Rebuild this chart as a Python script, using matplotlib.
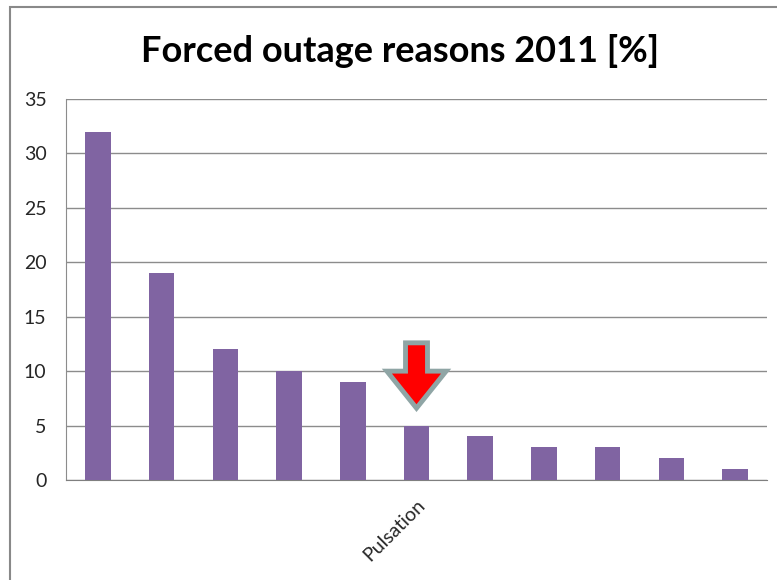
import matplotlib.pyplot as plt
from matplotlib.patches import FancyArrow, Rectangle

# values
reasons = ["", "", "", "", "", "Pulsation", "", "", "", "", ""]
share = [32, 19, 12, 10, 9, 5, 4, 3, 3, 2, 1]
highlight = "Pulsation"
yticks = [0, 5, 10, 15, 20, 25, 30, 35]

plt.rcParams['font.family'] = ['Lato', 'DejaVu Sans']

fig = plt.figure(figsize=(7.77, 5.8), dpi=100)
ax = fig.add_axes([66 / 777, 100 / 580, 701 / 777, 381 / 580])

x = list(range(len(share)))
ax.bar(x, share, width=0.4, color='#8064A2', zorder=3)

ax.set_xlim(-0.5, len(share) - 0.5)
ax.set_ylim(0, 35)
ax.set_yticks(yticks)
ax.set_yticklabels([str(v) for v in yticks], fontsize=14, color='#262626')
ax.set_xticks(x)
ax.set_xticklabels(reasons, rotation=45, ha='right', rotation_mode='anchor',
                   fontsize=14, color='#262626')
ax.tick_params(length=0)
ax.tick_params(axis='y', pad=14)
ax.tick_params(axis='x', pad=12)

ax.grid(axis='y', color='#8c8c8c', linewidth=1, zorder=0)
for s in ['top', 'right']:
    ax.spines[s].set_visible(False)
ax.spines['left'].set_color('#8c8c8c')
ax.spines['bottom'].set_color('#7f7f7f')

# arrow pointing at the highlighted bar
i = reasons.index(highlight)
top = share[i] + 7.6
ax.add_patch(FancyArrow(i, top, 0, -(top - share[i] - 1.6), width=0.345,
                        head_width=0.93, head_length=3.4,
                        length_includes_head=True, facecolor='#FF0000',
                        edgecolor='#8FA5A5', linewidth=3.5, zorder=5,
                        joinstyle='miter'))

fig.text(400 / 777, 1 - 51 / 580, "Forced outage reasons 2011 [%]",
         ha='center', va='center', fontsize=26, fontweight='bold')

# chart area border (cut off at right and bottom)
fig.patches.append(Rectangle((10 / 777, -0.1), 1.2, 1 - 7 / 580 + 0.1,
                             transform=fig.transFigure, fill=False,
                             edgecolor='#898989', linewidth=1.5))

fig.savefig('out.png', dpi=100)
